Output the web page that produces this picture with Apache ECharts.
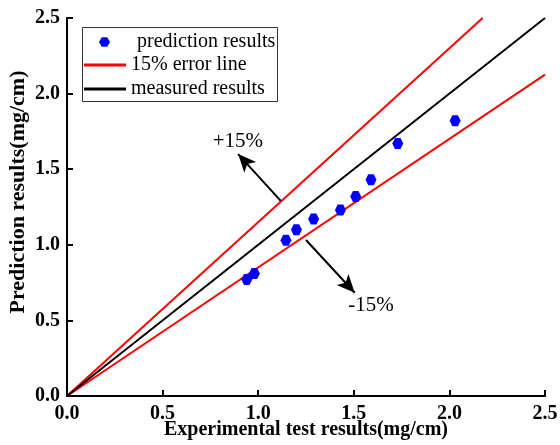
<!DOCTYPE html>
<html>
<head>
<meta charset="utf-8">
<script src="https://cdn.jsdelivr.net/npm/echarts@6/dist/echarts.min.js"></script>
<style>html,body{margin:0;padding:0;background:#fff}#c{width:560px;height:445px}</style>
</head>
<body>
<div id="c"></div>
<script>
const expX = [0.94, 0.98, 1.145, 1.20, 1.29, 1.43, 1.51, 1.59, 1.73, 2.03];
const predY = [0.77, 0.81, 1.03, 1.10, 1.17, 1.23, 1.32, 1.43, 1.67, 1.82];
const measuredLine = [[0, 0], [2.5, 2.5]];
const upperLine = [[0, 0], [2.174, 2.5]];
const lowerLine = [[0, 0], [2.5, 2.125]];
const upArrow = [[1.118, 1.290], [0.895, 1.600]];
const downArrow = [[1.25, 1.032], [1.505, 0.683]];
const upText = {label: '+15%', at: [0.894, 1.68]};
const downText = {label: '-15%', at: [1.59, 0.60]};
const xTitle = 'Experimental test results(mg/cm)';
const yTitle = 'Prediction results(mg/cm)';
const axisMin = 0, axisMax = 2.5, axisStep = 0.5;

const FONT = 'Liberation Serif';
const hex = 'path://M-1,0 L-0.5,-0.866 L0.5,-0.866 L1,0 L0.5,0.866 L-0.5,0.866 Z';

const chart = echarts.init(document.getElementById('c'));
const axisLine = {show: true, lineStyle: {color: '#000', width: 2}};
const legendText = {fontFamily: FONT, fontSize: 20, color: '#000'};
chart.setOption({
  animation: false,
  backgroundColor: '#fff',
  grid: {left: 67, right: 15, top: 18, bottom: 49, containLabel: false, outerBoundsMode: 'none'},
  graphic: [{
    type: 'rect', left: 82, top: 27, z: 100,
    shape: {width: 195, height: 74},
    style: {fill: '#fff', stroke: '#333', lineWidth: 1}
  }, {
    type: 'text', x: 306, y: 430, z: 100,
    style: {text: xTitle, font: 'bold 20px "Liberation Serif"', fill: '#000',
      align: 'center', verticalAlign: 'middle'}
  }, {
    type: 'text', x: 18, y: 192, rotation: Math.PI / 2, z: 100,
    style: {text: yTitle, font: 'bold 22px "Liberation Serif"', fill: '#000',
      align: 'center', verticalAlign: 'middle'}
  }],
  legend: [{
    orient: 'vertical', left: 99, top: 32, z: 101, padding: 0,
    data: ['prediction results'],
    itemWidth: 11, itemHeight: 11,
    textStyle: Object.assign({padding: [0, 0, 0, 22]}, legendText)
  }, {
    orient: 'vertical', left: 84, top: 55, z: 101, padding: 0,
    data: [{name: '15% error line', icon: 'rect'}, {name: 'measured results', icon: 'rect'}],
    itemGap: 4, itemWidth: 42, itemHeight: 3,
    textStyle: legendText
  }],
  xAxis: [{
    type: 'value', min: axisMin, max: axisMax, interval: axisStep,
    axisLine: axisLine, axisTick: {show: true, inside: true, length: 6, lineStyle: {color: '#000', width: 2}},
    axisLabel: {fontFamily: FONT, fontSize: 20, fontWeight: 'bold', color: '#000', margin: 8,
      formatter: v => v.toFixed(1)},
    splitLine: {show: false}
  }, {
    type: 'value', position: 'top', min: axisMin, max: axisMax,
    axisLine: axisLine, axisTick: {show: false}, axisLabel: {show: false}, splitLine: {show: false}
  }],
  yAxis: [{
    type: 'value', min: axisMin, max: axisMax, interval: axisStep,
    axisLine: axisLine, axisTick: {show: true, inside: true, length: 6, lineStyle: {color: '#000', width: 2}},
    axisLabel: {fontFamily: FONT, fontSize: 20, fontWeight: 'bold', color: '#000', margin: 7,
      formatter: v => v.toFixed(1)},
    splitLine: {show: false}
  }, {
    type: 'value', position: 'right', min: axisMin, max: axisMax,
    axisLine: axisLine, axisTick: {show: false}, axisLabel: {show: false}, splitLine: {show: false}
  }],
  series: [
    {
      name: '15% error line', type: 'line', data: upperLine, symbol: 'none',
      lineStyle: {color: '#ff0000', width: 2}, itemStyle: {color: '#ff0000'}, z: 2
    },
    {
      name: '15% error line', type: 'line', data: lowerLine, symbol: 'none',
      lineStyle: {color: '#ff0000', width: 2}, itemStyle: {color: '#ff0000'}, z: 2
    },
    {
      name: 'measured results', type: 'line', data: measuredLine, symbol: 'none',
      lineStyle: {color: '#000', width: 2}, itemStyle: {color: '#000'}, z: 2,
      markLine: {
        silent: true, symbol: ['none', 'arrow'], symbolSize: [12, 18],
        lineStyle: {color: '#000', width: 2, type: 'solid'},
        label: {show: false},
        data: [
          [{coord: upArrow[0]}, {coord: upArrow[1]}],
          [{coord: downArrow[0]}, {coord: downArrow[1]}]
        ]
      },
      markPoint: {
        silent: true, symbol: 'circle', symbolSize: 0,
        label: {show: true, fontFamily: FONT, fontSize: 21, color: '#000',
          formatter: p => p.name},
        data: [
          {name: upText.label, coord: upText.at},
          {name: downText.label, coord: downText.at}
        ]
      }
    },
    {
      name: 'prediction results', type: 'scatter', symbol: hex, symbolSize: 11,
      itemStyle: {color: '#0000ff', opacity: 1}, z: 5,
      data: expX.map((x, i) => [x, predY[i]])
    }
  ]
});
</script>
</body>
</html>
